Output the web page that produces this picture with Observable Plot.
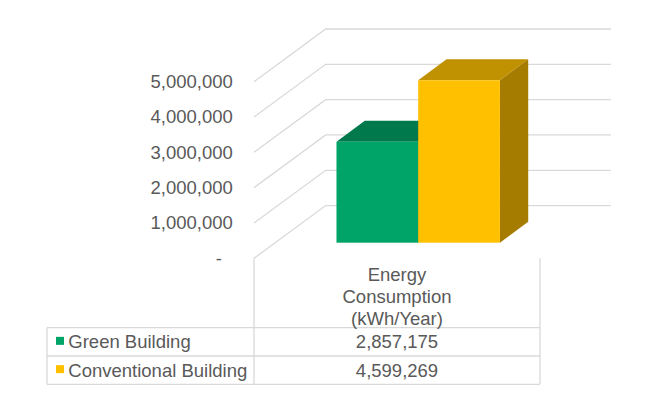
<!DOCTYPE html>
<html>
<head>
<meta charset="utf-8">
<script src="https://cdn.jsdelivr.net/npm/d3@7"></script>
<script src="https://cdn.jsdelivr.net/npm/@observablehq/plot@0.6"></script>
<style>
  html, body { margin: 0; padding: 0; background: #fff; }
  #chart { width: 650px; height: 397px; }
</style>
</head>
<body>
<div id="chart"></div>
<script>
// ---- data ----
const series = ["Green Building", "Conventional Building"];
const values = [2857175, 4599269];
const headerLines = ["Energy", "Consumption", "(kWh/Year)"];
const yTicks = [0, 1000000, 2000000, 3000000, 4000000, 5000000];
const frontColors = ["#00A468", "#FFC000"];
const topColors = ["#007A4C", "#C09100"];
const sideColors = ["#007A4C", "#A67C00"];

const data = series.map((s, i) => ({series: s, value: values[i], i}));

// ---- styling constants (pixels) ----
const FONT = "'Liberation Sans', Arial, sans-serif";
const TEXT = "#595959";
const GRID = "#d9d9d9";
const floorDx = 71.7, floorDy = -52.7;   // wall depth
const barOffDx = 21.2, barOffDy = -15.6; // bar front plane offset
const barDx = 28.3, barDy = -21;         // bar depth
const wallRight = 611;
const tableLeft = 47;
const headerTop = 258.3, headerBottom = 327.7, row1Bottom = 356, row2Bottom = 384.3;
const fmt = d3.format(",");

function gridMark(index, scales, chVals, dims) {
  const y = scales.y;
  const x0 = dims.marginLeft;
  const g = d3.create("svg:g");
  for (const t of yTicks) {
    const yy = y(t);
    g.append("path")
      .attr("d", `M${x0},${yy}L${x0 + floorDx},${yy + floorDy}L${wallRight},${yy + floorDy}`)
      .attr("fill", "none").attr("stroke", GRID).attr("stroke-width", 1.3);
  }
  return g.node();
}

function facesMark(index, scales, chVals, dims) {
  const x = scales.x, y = scales.y;
  const bw = x.bandwidth();
  const g = d3.create("svg:g");
  for (const d of data) {
    const x1 = x(d.series) + barOffDx, x2 = x1 + bw;
    const yt = y(d.value) + barOffDy, yb = y(0) + barOffDy;
    g.append("path")
      .attr("d", `M${x1},${yt}L${x2},${yt}L${x2 + barDx},${yt + barDy}L${x1 + barDx},${yt + barDy}Z`)
      .attr("fill", topColors[d.i]);
    g.append("path")
      .attr("d", `M${x2},${yt}L${x2 + barDx},${yt + barDy}L${x2 + barDx},${yb + barDy}L${x2},${yb}Z`)
      .attr("fill", sideColors[d.i]);
  }
  return g.node();
}

function tableMark(index, scales, chVals, dims) {
  const cL = dims.marginLeft, cR = dims.width - dims.marginRight;
  const cx = (cL + cR) / 2;
  const g = d3.create("svg:g")
    .attr("font-family", FONT).attr("font-size", "18.5px").attr("fill", TEXT);
  const line = (x1, y1, x2, y2) => g.append("line")
    .attr("x1", x1).attr("y1", y1).attr("x2", x2).attr("y2", y2)
    .attr("stroke", GRID).attr("stroke-width", 1.3);
  line(cL, headerTop, cL, row2Bottom);
  line(cR, headerTop, cR, row2Bottom);
  line(tableLeft, headerBottom, tableLeft, row2Bottom);
  for (const yy of [headerBottom, row1Bottom, row2Bottom]) line(tableLeft, yy, cR, yy);
  headerLines.forEach((t, k) => {
    g.append("text").attr("x", cx).attr("y", 275 + k * 21.7).attr("dy", "0.35em")
      .attr("text-anchor", "middle").text(t);
  });
  const rows = [[headerBottom, row1Bottom], [row1Bottom, row2Bottom]];
  data.forEach((d, k) => {
    const yc = (rows[k][0] + rows[k][1]) / 2;
    g.append("rect").attr("x", 56).attr("y", yc - 5).attr("width", 8).attr("height", 8)
      .attr("fill", frontColors[d.i]);
    g.append("text").attr("x", 68.3).attr("y", yc).attr("dy", "0.35em")
      .attr("text-anchor", "start").text(d.series);
    g.append("text").attr("x", cx).attr("y", yc).attr("dy", "0.35em")
      .attr("text-anchor", "middle").text(fmt(d.value));
  });
  return g.node();
}

const chart = Plot.plot({
  width: 650,
  height: 397,
  marginLeft: 254,
  marginRight: 110,
  marginTop: 81.7,
  marginBottom: 138.7,
  style: {fontFamily: FONT, fontSize: "18.5px", color: TEXT, background: "#fff", overflow: "visible"},
  x: {domain: series, paddingInner: 0, paddingOuter: 0.75, round: false, axis: null},
  y: {domain: [0, 5000000], axis: null},
  marks: [
    gridMark,
    Plot.text(yTicks.filter(d => d !== 0), {
      y: d => d, text: d => fmt(d), frameAnchor: "left", textAnchor: "end",
      dx: -21.7, fill: TEXT, fontSize: 18.5
    }),
    Plot.text([0], {
      y: d => d, text: () => "-", frameAnchor: "left", textAnchor: "end",
      dx: -32.5, fill: TEXT, fontSize: 18.5
    }),
    facesMark,
    Plot.barY(data, {x: "series", y: "value", fill: d => frontColors[d.i], dx: barOffDx, dy: barOffDy, inset: 0}),
    tableMark
  ]
});
document.getElementById("chart").appendChild(chart);
</script>
</body>
</html>
